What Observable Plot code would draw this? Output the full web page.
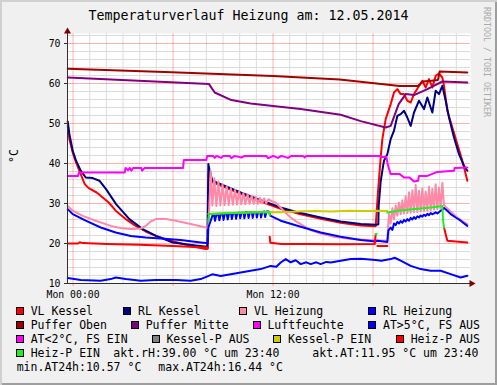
<!DOCTYPE html>
<html><head><meta charset="utf-8">
<script src="https://cdn.jsdelivr.net/npm/d3@7"></script>
<script src="https://cdn.jsdelivr.net/npm/@observablehq/plot@0.6"></script>
<style>
body{margin:0;background:#fff;}
#chart{position:relative;width:497px;height:385px;background:#f0f0f0;overflow:hidden;
 box-shadow: inset 2px 2px 0 #d0d0d0, inset -2px -2px 0 #9e9e9e;
 font-family:"DejaVu Sans Mono",monospace;color:#000;}
#chart svg{position:absolute;left:0;top:0;}
.abs{position:absolute;white-space:pre;}
.title{left:0;width:497px;text-align:center;top:8px;font-size:13.3px;line-height:16px;}
.lg{font-size:11.5px;line-height:14px;}
.sq{position:absolute;width:6px;height:6px;border:1px solid #000;}
</style></head>
<body><div id="chart"></div>
<script>
// ---- data (hours relative to Mon 00:00, value °C) ----
const title = "Temperaturverlauf Heizung am: 12.05.2014";
const xTickHours = [0, 12];
const xTickLabels = ["Mon 00:00", "Mon 12:00"];
const yTicks = [10, 20, 30, 40, 50, 60, 70];

const vlKessel = [[-0.32,49.4],[-0.22,46.1],[-0.02,42.75],[0.18,40.25],[0.46,37.35],[0.70,34.85],[0.94,33.85],[1.42,32.75],[1.78,31.5],[2.14,30.25],[2.56,28.2],[3.16,26.1],[3.76,24.4],[4.36,23.0],[4.96,21.9],[5.86,20.7],[7.06,19.4],[7.96,18.6],[8.08,18.7],[8.14,37.5],[8.36,35.3],[8.86,34.5],[10.06,32.4],[11.26,30.5],[12.46,28.7],[13.66,27.3],[14.86,26.2],[16.06,25.2],[17.26,24.5],[18.16,24.3],[18.30,33],[18.46,41.5],[18.56,46.1],[18.76,51.1],[19.06,54.85],[19.26,57.75],[19.46,58.6],[19.66,57.35],[19.86,57.35],[20.06,55.7],[20.26,55.25],[20.46,57.35],[20.76,59.4],[20.96,60.7],[21.16,59.0],[21.36,61.1],[21.56,59.0],[21.76,61.9],[21.96,62.5],[22.16,61.5],[22.26,59.4],[22.46,53.2],[22.76,49.0],[23.06,44.85],[23.36,40.7],[23.66,35.7]];

const rlKessel = [[-0.32,50.5],[-0.22,47.35],[-0.02,43.2],[0.18,40.7],[0.46,38.2],[0.76,36.5],[1.18,36.35],[1.58,35.7],[1.98,33.6],[2.58,29.85],[3.38,26.1],[4.18,23.6],[4.98,21.9],[5.98,20.25],[6.98,19.7],[7.88,19.25],[8.06,19.3],[8.12,39.85],[8.18,38.5],[8.36,35.7],[8.86,34.85],[10.06,32.75],[11.26,30.85],[12.46,29.0],[13.66,27.6],[14.86,26.5],[16.06,25.5],[17.26,24.85],[18.2,24.7],[18.32,24.8],[18.34,29.4],[18.46,35.5],[18.56,38.2],[18.66,40.7],[18.86,42.35],[19.06,46.1],[19.26,48.2],[19.46,51.9],[19.66,52.35],[19.86,53.2],[20.06,51.5],[20.26,49.4],[20.46,52.75],[20.76,55.7],[21.06,53.6],[21.26,56.5],[21.56,52.75],[21.76,58.2],[21.96,57.35],[22.16,59.4],[22.36,55.7],[22.56,51.5],[22.86,46.5],[23.16,42.35],[23.46,39.4],[23.66,38.2]];

const vlHeizung = [[-0.32,29.4],[-0.02,28.2],[0.58,26.9],[1.36,25.7],[2.26,24.4],[2.86,23.85],[3.46,23.6],[4.06,23.75],[4.36,24.4],[4.66,25.5],[4.96,26.1],[5.56,26.1],[6.16,25.7],[7.06,24.85],[7.96,24.0],[8.10,23.75],[8.16,27.5],[8.26,38.2],[8.36,29.5],[8.48,36.3],[8.6,29.4],[8.72,35.5],[8.84,29.5],[8.97,34.8],[9.09,29.6],[9.22,34.3],[9.34,29.6],[9.47,33.8],[9.59,29.7],[9.72,33.4],[9.84,29.7],[9.97,33.0],[10.09,29.8],[10.22,32.6],[10.34,29.8],[10.47,32.3],[10.59,29.9],[10.72,32.0],[10.84,29.9],[10.97,31.7],[11.09,29.9],[11.22,31.4],[11.34,30.0],[11.47,31.3],[11.59,30.1],[11.74,31.1],[11.86,30.7],[12.16,30.2],[12.46,29.0],[12.76,27.6],[13.06,26.5],[13.36,25.6],[13.66,24.85],[14.26,23.35],[14.86,22.5],[15.66,21.7],[16.66,21.1],[17.86,20.85],[18.16,20.8],[18.86,20.7],[18.9,24.0],[18.96,27.4],[19.06,25.0],[19.16,28.8],[19.26,26.0],[19.36,29.5],[19.46,27.0],[19.56,30.2],[19.66,27.3],[19.76,30.8],[19.86,27.5],[19.96,31.8],[20.06,27.6],[20.16,32.8],[20.26,27.7],[20.36,33.3],[20.46,27.8],[20.56,34.6],[20.66,27.9],[20.76,33.2],[20.86,28.0],[20.96,33.8],[21.06,28.1],[21.16,33.0],[21.26,28.2],[21.36,34.2],[21.46,28.3],[21.56,33.6],[21.66,28.5],[21.76,34.8],[21.86,28.6],[21.96,34.0],[22.06,28.8],[22.16,35.2],[22.26,29.6],[22.66,28.0],[23.06,26.5],[23.36,25.6],[23.66,24.85]];

const rlHeizung = [[-0.32,28.6],[-0.02,27.35],[0.76,25.7],[1.66,24.0],[2.56,22.75],[3.46,21.9],[4.36,21.5],[5.26,21.25],[6.46,20.85],[7.66,20.25],[7.96,20.1],[8.08,20.2],[8.12,24.0],[8.36,26.9],[8.46,27.1],[8.52,25.7],[8.6,27.2],[8.72,27.2],[8.78,25.8],[8.86,27.3],[8.98,27.3],[9.03,25.9],[9.11,27.4],[9.22,27.4],[9.28,26.0],[9.36,27.5],[9.48,27.5],[9.53,26.1],[9.61,27.6],[9.73,27.6],[9.78,26.2],[9.86,27.6],[9.98,27.7],[10.03,26.3],[10.11,27.7],[10.23,27.7],[10.28,26.3],[10.36,27.8],[10.48,27.8],[10.53,26.4],[10.61,27.8],[10.73,27.8],[10.78,26.4],[10.86,27.9],[10.98,27.9],[11.03,26.5],[11.11,27.9],[11.23,27.9],[11.28,26.5],[11.36,27.9],[11.48,28.0],[11.53,26.6],[11.61,28.0],[11.74,28.0],[11.86,26.9],[12.46,25.7],[13.66,24.2],[14.86,22.75],[16.06,21.7],[17.26,20.85],[18.16,20.5],[18.26,20.7],[18.86,20.4],[18.92,23.2],[19.06,24.0],[19.16,23.4],[19.26,25.0],[19.36,24.6],[19.46,25.4],[19.56,25.0],[19.66,25.6],[19.76,25.2],[19.86,25.9],[19.96,25.5],[20.06,26.1],[20.16,25.7],[20.26,26.4],[20.36,26.0],[20.46,26.6],[20.56,26.2],[20.66,26.8],[20.76,26.5],[20.86,27.0],[20.96,26.7],[21.06,27.2],[21.16,26.9],[21.26,27.4],[21.36,27.1],[21.46,27.6],[21.56,27.3],[21.76,27.8],[21.86,27.5],[22.06,28.2],[22.16,28.4],[22.26,28.9],[22.46,28.2],[22.66,27.35],[22.96,26.5],[23.26,25.7],[23.66,24.4]];

const pufferOben = [[-0.32,63.7],[5.5,62.9],[12,61.85],[16,61.0],[19.6,59.4],[20.7,59.4],[21.0,60.5],[21.5,60.7],[21.9,60.9],[22.0,63.0],[23.66,62.75]];

const pufferMitte = [[-0.32,61.5],[8.16,59.85],[8.5,57.75],[9.5,55.85],[10.66,55.0],[12.0,54.4],[13.66,53.6],[16.06,52.2],[17.26,50.6],[18.76,49.0],[19.06,49.4],[19.54,54.85],[19.96,57.35],[20.46,57.1],[21.26,58.6],[22.16,60.5],[23.66,60.25]];

const luftfeuchte = [[-0.32,36.85],[0.3,36.85],[0.35,37.75],[3.1,37.75],[3.15,38.9],[3.3,38.3],[3.4,38.9],[3.5,38.2],[3.6,38.9],[4.1,38.9],[4.15,38.2],[4.3,38.9],[6.6,38.9],[6.65,40.9],[8.0,40.9],[8.05,41.9],[8.4,41.9],[8.5,41.4],[8.6,41.9],[8.9,41.4],[9.0,41.9],[9.4,41.9],[9.5,41.3],[9.7,41.9],[10.1,41.5],[10.3,41.9],[11.6,41.9],[11.7,41.3],[12.0,41.9],[12.3,41.4],[12.5,41.9],[12.9,41.4],[13.1,41.9],[13.8,41.9],[13.9,41.5],[14.0,41.9],[18.4,41.9],[18.5,41.6],[18.8,41.7],[18.9,39.5],[19.06,37.35],[19.6,37.35],[19.86,36.5],[20.2,36.5],[20.46,35.5],[20.7,35.7],[20.76,36.9],[21.26,36.9],[21.86,37.9],[22.86,38.2],[22.9,38.85],[23.66,39.0]];

const atWarm = [[-0.32,11.35],[0.46,10.85],[1.66,10.7],[2.26,11.1],[2.56,11.5],[3.16,11.1],[4.06,10.7],[4.96,10.9],[6.16,10.9],[7.06,10.7],[7.66,11.1],[8.36,12.3],[8.86,11.9],[10.06,12.75],[11.26,13.6],[11.86,14.4],[12.2,14.2],[12.46,15.25],[12.76,16.1],[13.06,15.3],[13.36,15.8],[13.66,14.85],[14.0,15.3],[14.26,14.85],[14.6,15.3],[14.86,14.85],[15.2,15.4],[15.46,15.25],[16.06,15.7],[16.66,16.1],[17.26,16.2],[18.16,15.85],[18.5,15.7],[19.06,16.1],[19.3,16.44],[19.66,15.7],[20.26,14.4],[20.86,13.6],[21.46,13.2],[22.06,13.2],[22.66,12.35],[23.26,11.5],[23.66,11.95]];

const kesselPEin = [[8.12,27.4],[9,27.6],[10,27.7],[11,27.8],[11.86,27.9],[12.5,27.8],[13.5,28.0],[14.5,28.1],[15.5,28.0],[16.5,28.2],[17.5,28.1],[18.5,28.2],[18.86,28.1]];

// [hour, value, run]
const heizPAus = [[-0.32,20.0,0],[0.3,20.0,0],[0.4,20.3,0],[0.6,20.1,0],[2,19.9,0],[4,19.7,0],[6,19.4,0],[7.96,19.0,0],[8.1,19.0,0],
  [11.80,21.7,1],[11.84,20.2,1],[12.5,19.9,1],[14,19.85,1],[16,19.8,1],[18.1,19.85,1],[18.16,22.3,1],
  [18.26,19.4,2],[18.86,19.4,2],
  [22.26,24.0,3],[22.46,20.7,3],[23.66,20.25,3]];
const heizPEin = [[8.12,25.5,0],[8.16,27.35,0],[9,27.5,0],[10,27.7,0],[11,27.8,0],[11.78,27.9,0],[11.80,27.0,0],
  [18.16,22.3,1],[18.22,22.4,1],
  [18.86,27.75,2],[19.5,28.2,2],[20.5,28.6,2],[21.5,29.0,2],[22.16,29.4,2],[22.2,26.0,2],[22.26,24.0,2]];

const aktRH = "39.00", aktAT = "11.95", aktTime = "23:40", minAT = "10.57", maxAT = "16.44";

const series = [
  {label:"VL Kessel", color:"#ff0000"},
  {label:"RL Kessel", color:"#000080"},
  {label:"VL Heizung", color:"#ff8aa8"},
  {label:"RL Heizung", color:"#0000ff"},
  {label:"Puffer Oben", color:"#a00000"},
  {label:"Puffer Mitte", color:"#800080"},
  {label:"Luftfeuchte", color:"#ff00ff"},
  {label:"AT>5°C, FS AUS", color:"#0000ff"},
  {label:"AT<2°C, FS EIN", color:"#ff00ff"},
  {label:"Kessel-P AUS", color:"#808080"},
  {label:"Kessel-P EIN", color:"#cccc00"},
  {label:"Heiz-P AUS", color:"#ff0000"},
  {label:"Heiz-P EIN", color:"#22ee22"}
];
const col = Object.fromEntries(series.map(s => [s.label, s.color]));

// ---- plot ----
const xDomain = [-1/3, 23.85];
const yDomain = [10, 72.5];
const minorX = d3.range(0, 24).filter(h => h % 6 !== 0);
const majorX = [0, 6, 12, 18];
const minorY = d3.range(12, 73, 2).filter(v => v % 10 !== 0);
const majorY = [20, 30, 40, 50, 60, 70];
const L = (data, color, extra = {}) => Plot.line(data, {x: d => d[0], y: d => d[1], stroke: color, strokeWidth: 2, ...extra});

const plot = Plot.plot({
  width: 497, height: 300,
  marginLeft: 67, marginRight: 27, marginTop: 33, marginBottom: 17,
  style: {background: "transparent", fontFamily: "DejaVu Sans Mono, monospace", fontSize: "9.8px", color: "#000", overflow: "visible"},
  x: {domain: xDomain},
  y: {domain: yDomain},
  marks: [
    Plot.frame({fill: "white", stroke: null}),
    Plot.ruleX(minorX, {stroke: "#dcdcdc"}),
    Plot.ruleY(minorY, {stroke: "#dcdcdc"}),
    Plot.ruleX(majorX, {stroke: "#ff0000", strokeOpacity: 0.3}),
    Plot.ruleY(majorY, {stroke: "#ff0000", strokeOpacity: 0.3}),
    L(vlKessel, col["VL Kessel"]),
    L(rlKessel, col["RL Kessel"]),
    L(vlHeizung, col["VL Heizung"]),
    L(rlHeizung, col["RL Heizung"]),
    L(pufferOben, col["Puffer Oben"]),
    L(pufferMitte, col["Puffer Mitte"]),
    L(luftfeuchte, col["Luftfeuchte"]),
    L(atWarm, col["AT>5°C, FS AUS"]),
    L(kesselPEin, col["Kessel-P EIN"]),
    L(heizPAus, col["Heiz-P AUS"], {z: d => d[2]}),
    L(heizPEin, col["Heiz-P EIN"], {z: d => d[2]}),
    Plot.ruleX([xDomain[0]], {y1: yDomain[0], y2: yDomain[1], stroke: "#303030", dy: 0}),
    Plot.ruleY([yDomain[0]], {x1: xDomain[0], x2: xDomain[1], stroke: "#303030"}),
    Plot.dot([0], {x: () => xDomain[0], y: () => yDomain[1], symbol: "triangle", r: 2.6, fill: "#7f0000", stroke: null, dy: -2}),
    Plot.dot([0], {x: () => xDomain[1], y: () => yDomain[0], symbol: "triangle", r: 2.6, fill: "#7f0000", stroke: null, rotate: 90, dx: 1}),
    Plot.axisY({ticks: yTicks, tickSize: 3, tickPadding: 4, stroke: "#303030", fontSize: 9.8}),
    Plot.axisX({ticks: majorX, tickSize: 3, tickFormat: () => "", stroke: "#ff0000", strokeOpacity: 0.35}),
    Plot.axisX({ticks: xTickHours, tickSize: 0, tickPadding: 8, tickFormat: (d, i) => xTickLabels[i], fontSize: 9.8})
  ]
});
const chart = document.getElementById("chart");
chart.appendChild(plot);

// ---- texts ----
function addText(txt, cls, style) {
  const el = document.createElement("div");
  el.className = "abs " + cls;
  el.textContent = txt;
  Object.assign(el.style, style);
  chart.appendChild(el);
  return el;
}
addText(title, "title", {});
addText("°C", "lg", {left: "14px", top: "156px", transform: "translate(-50%,-50%) rotate(-90deg)"});
addText("RRDTOOL / TOBI OETIKER", "", {left: "487px", top: "62px", fontSize: "8.3px", color: "#aaaaaa", transform: "translate(-50%,-50%) rotate(90deg)"});

// legend layout
const rowTop = [304, 318, 332, 346, 360];
const legendLayout = [
  ["VL Kessel", 0, 16], ["RL Kessel", 0, 123.3], ["VL Heizung", 0, 239.3], ["RL Heizung", 0, 368.3],
  ["Puffer Oben", 1, 16], ["Puffer Mitte", 1, 131], ["Luftfeuchte", 1, 252.7], ["AT>5°C, FS AUS", 1, 368.3],
  ["AT<2°C, FS EIN", 2, 16], ["Kessel-P AUS", 2, 151.7], ["Kessel-P EIN", 2, 273.3], ["Heiz-P AUS", 2, 396],
  ["Heiz-P EIN", 3, 16]
];
for (const [label, row, x] of legendLayout) {
  const sq = document.createElement("div");
  sq.className = "sq";
  Object.assign(sq.style, {left: x + "px", top: (rowTop[row] + 3) + "px", background: col[label]});
  chart.appendChild(sq);
  addText(label, "lg", {left: (x + 14.7) + "px", top: rowTop[row] + "px"});
}
addText(`akt.rH:${aktRH} °C um ${aktTime}`, "lg", {left: "113.3px", top: rowTop[3] + "px"});
addText(`akt.AT:${aktAT} °C um ${aktTime}`, "lg", {left: "312.3px", top: rowTop[3] + "px"});
addText(`min.AT24h:${minAT} °C`, "lg", {left: "16.7px", top: rowTop[4] + "px"});
addText(`max.AT24h:${maxAT} °C`, "lg", {left: "158.3px", top: rowTop[4] + "px"});
</script>
</body></html>
